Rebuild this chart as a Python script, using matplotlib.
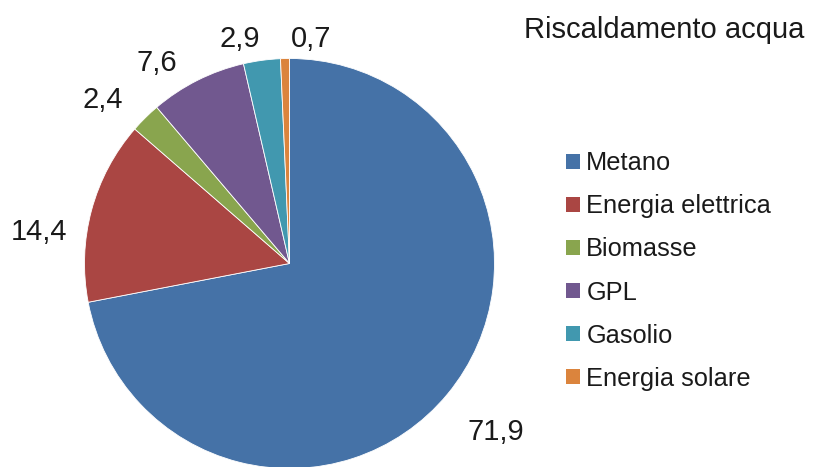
import numpy as np
import matplotlib
matplotlib.use("Agg")
import matplotlib.pyplot as plt
from matplotlib.patches import Patch

categories = ["Metano", "Energia elettrica", "Biomasse", "GPL", "Gasolio", "Energia solare"]
values = [71.9, 14.4, 2.4, 7.6, 2.9, 0.7]
value_labels = ["71,9", "14,4", "2,4", "7,6", "2,9", "0,7"]
colors = ["#4572A7", "#AA4643", "#89A54E", "#71588F", "#4198AF", "#DB843D"]
title = "Riscaldamento acqua"

# label placement styling (angle nudge in degrees, radial distance)
label_nudge = [0.2, 7.8, 4.1, 6.95, 4.8, -6.7]
label_dist = [1.300, 1.234, 1.210, 1.172, 1.124, 1.102]

plt.rcParams["font.family"] = ["Liberation Sans", "DejaVu Sans"]

W, H = 818, 467
fig = plt.figure(figsize=(W / 100, H / 100), dpi=100)
cx, cy, r = 289.5, 263.5, 205
ax = fig.add_axes([(cx - r) / W, (H - cy - r) / H, 2 * r / W, 2 * r / H])
wedges, _ = ax.pie(values, colors=colors, startangle=90, counterclock=False,
                   wedgeprops=dict(edgecolor="white", linewidth=0.6))
ax.set_xlim(-1, 1)
ax.set_ylim(-1, 1)
ax.set_aspect("auto")
ax.axis("off")

for w, lab, nud, d in zip(wedges, value_labels, label_nudge, label_dist):
    th = np.deg2rad((w.theta1 + w.theta2) / 2 + nud)
    ax.text(d * np.cos(th), d * np.sin(th), lab, ha="center", va="center",
            fontsize=21, color="#1a1a1a", clip_on=False)

fig.text(664 / W, 1 - 30 / H, title, ha="center", va="center", fontsize=21, color="#1a1a1a")

handles = [Patch(facecolor=c, edgecolor="none") for c in colors]
leg = fig.legend(handles, categories, loc="center left",
                 bbox_to_anchor=(566 / W, 1 - 271 / H), frameon=False,
                 fontsize=18.3, handlelength=0.55, handleheight=0.55,
                 handletextpad=0.25, labelspacing=0.75, borderpad=0, borderaxespad=0)
for t in leg.get_texts():
    t.set_color("#1a1a1a")

fig.savefig("out.png", dpi=100)
